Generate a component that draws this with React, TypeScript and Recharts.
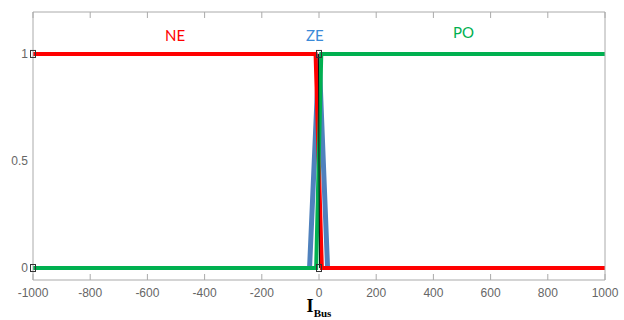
import React from "react"
import { ComposedChart, Line, Scatter, XAxis, YAxis, ReferenceLine } from "recharts"

// membership functions for I_Bus
const neX = [-1000, -12, 10, 1000]
const neY = [1, 1, 0, 0]
const zeX = [-33, 0, 30]
const zeY = [0, 1, 0]
const poX = [-1000, -10, 8, 1000]
const poY = [0, 0, 1, 1]
const midX = [2, -2]
const midY = [0, 1]
const markX = [-1000, -1000, 0, 0]
const markY = [0, 1, 0, 1]

const xTicks = [-1000, -800, -600, -400, -200, 0, 200, 400, 600, 800, 1000]
const yTicks = [0, 0.5, 1]
const yDomain = [-0.056, 1.196]
const topTickLen = 0.028

const toPts = (xs: number[], ys: number[]) => xs.map((x, i) => ({ x, y: ys[i] }))

const ne = toPts(neX, neY)
const ze = toPts(zeX, zeY)
const po = toPts(poX, poY)
const mid = toPts(midX, midY)
const marks = toPts(markX, markY)

const W = 624
const H = 320
const tickFont = "'Liberation Sans', Arial, sans-serif"

// inward tick mark on bottom frame, label below
const BottomTick = ({ x, y, payload }: any) => (
  <g>
    <line x1={x} y1={y} x2={x} y2={y - 6} stroke="#aaa" />
    <text x={x} y={y + 17} textAnchor="middle" fontSize={12} fill="#666" fontFamily={tickFont}>
      {payload.value}
    </text>
  </g>
)

const LeftTick = ({ x, y, payload }: any) => (
  <text x={x - 5} y={y + 4} textAnchor="end" fontSize={12} fill="#666" fontFamily={tickFont}>
    {payload.value}
  </text>
)

const Square = ({ cx, cy }: any) => (
  <rect x={cx - 2.5} y={cy - 3.5} width={5} height={7} fill="none" stroke="#333" strokeWidth={1} />
)

export default function App() {
  return (
    <div style={{ position: "absolute", left: 0, top: 0, width: W, height: H, background: "#fff" }}>
      <ComposedChart width={W} height={H} margin={{ top: 12, right: 18, left: 3, bottom: 10 }}>
        <XAxis
          xAxisId="b"
          dataKey="x"
          type="number"
          domain={[-1000, 1000]}
          ticks={xTicks}
          height={30}
          tickSize={0}
          tickMargin={0}
          tickLine={false}
          axisLine={{ stroke: "#aaa" }}
          tick={<BottomTick />}
          interval={0}
        />
        <YAxis
          yAxisId="l"
          type="number"
          domain={yDomain}
          ticks={yTicks}
          width={30}
          tickSize={0}
          tickMargin={0}
          tickLine={false}
          axisLine={{ stroke: "#aaa" }}
          tick={<LeftTick />}
          interval={0}
        />
        <YAxis
          yAxisId="r"
          orientation="right"
          type="number"
          domain={yDomain}
          width={1}
          tick={false}
          tickLine={false}
          axisLine={{ stroke: "#aaa" }}
        />
        <ReferenceLine xAxisId="b" yAxisId="l" y={yDomain[1]} stroke="#aaa" ifOverflow="visible" />
        {xTicks.map((t) => (
          <ReferenceLine
            key={`top-${t}`}
            xAxisId="b"
            yAxisId="l"
            segment={[
              { x: t, y: yDomain[1] },
              { x: t, y: yDomain[1] - topTickLen },
            ]}
            stroke="#aaa"
            ifOverflow="visible"
          />
        ))}
        <Line xAxisId="b" yAxisId="l" data={ze} dataKey="y" stroke="#4f81bd" strokeWidth={5} dot={false} isAnimationActive={false} />
        <Line xAxisId="b" yAxisId="l" data={ne} dataKey="y" stroke="#ff0000" strokeWidth={4} dot={false} isAnimationActive={false} />
        <Line xAxisId="b" yAxisId="l" data={po} dataKey="y" stroke="#00b050" strokeWidth={4} dot={false} isAnimationActive={false} />
        <Line xAxisId="b" yAxisId="l" data={mid} dataKey="y" stroke="#111" strokeWidth={1} dot={false} isAnimationActive={false} />
        <Scatter xAxisId="b" yAxisId="l" data={marks} dataKey="y" shape={<Square />} isAnimationActive={false} />
      </ComposedChart>
      <div style={{ position: "absolute", left: 165, top: 26, color: "#ff0000", fontFamily: "Lato, sans-serif", fontSize: 15 }}>NE</div>
      <div style={{ position: "absolute", left: 306, top: 26, color: "#3a8ad8", fontFamily: "Lato, sans-serif", fontSize: 15 }}>ZE</div>
      <div style={{ position: "absolute", left: 453, top: 23, color: "#00b050", fontFamily: "Lato, sans-serif", fontSize: 15 }}>PO</div>
      <div
        style={{
          position: "absolute",
          left: 0,
          width: W,
          top: 296,
          textAlign: "center",
          fontFamily: "'Liberation Serif', 'Times New Roman', serif",
          fontWeight: "bold",
          fontSize: 18,
          paddingLeft: 14,
          boxSizing: "border-box",
        }}
      >
        I<sub style={{ fontSize: 11 }}>Bus</sub>
      </div>
    </div>
  )
}
